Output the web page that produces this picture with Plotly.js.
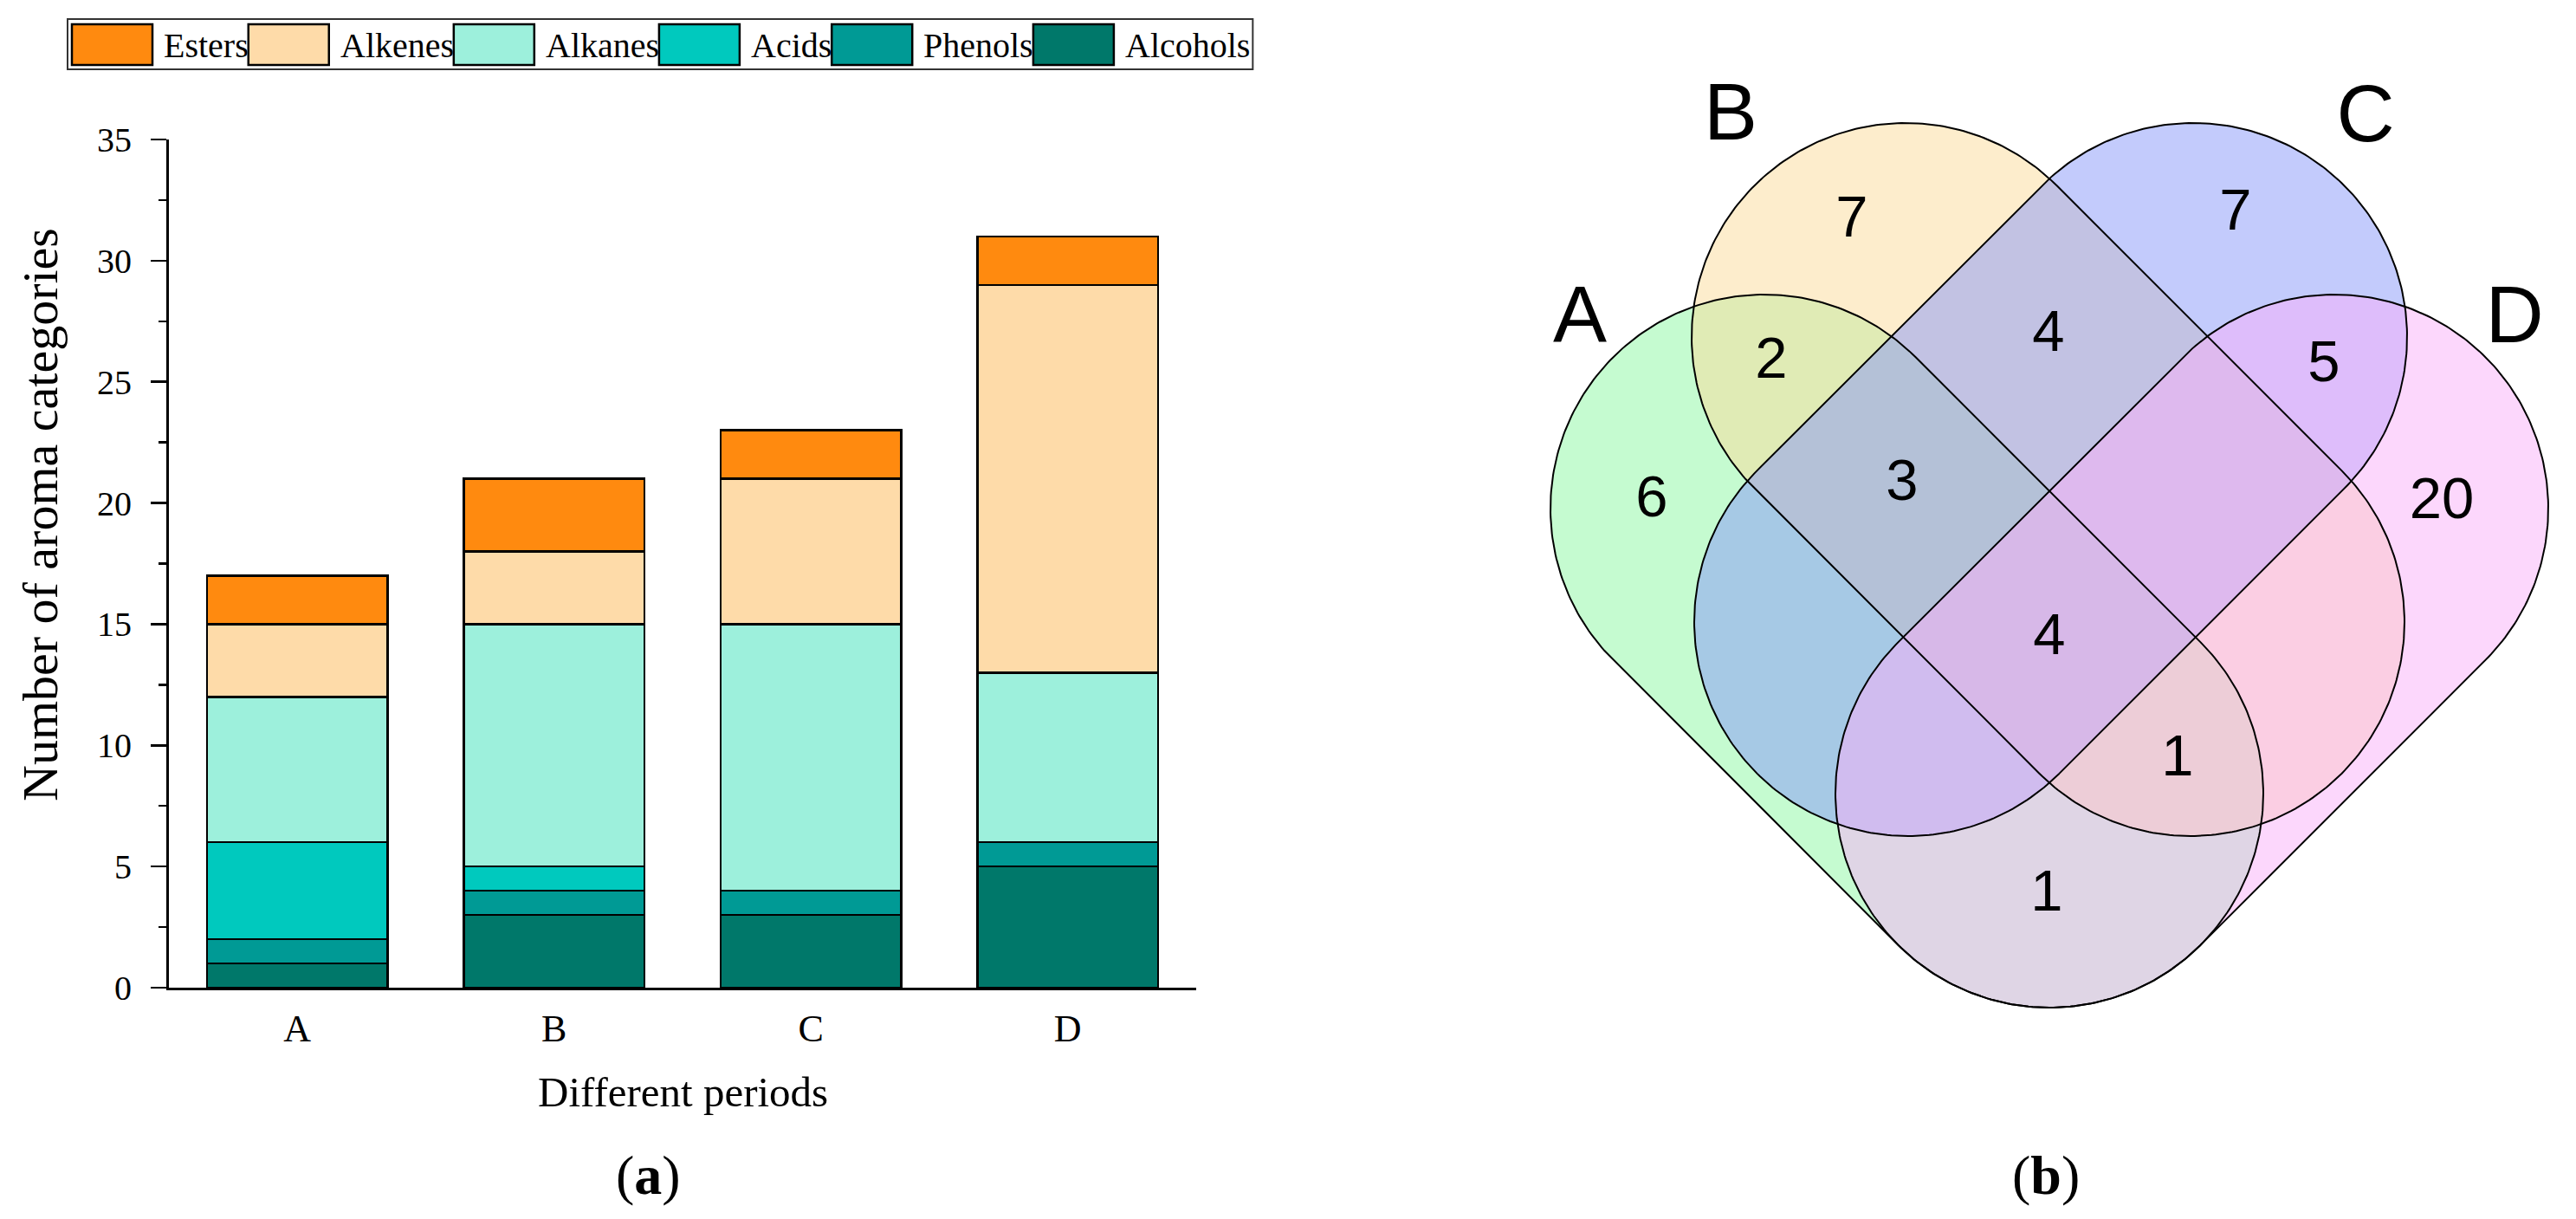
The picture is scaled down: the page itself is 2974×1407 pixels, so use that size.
<!DOCTYPE html>
<html>
<head>
<meta charset="utf-8">
<script src="https://cdn.plot.ly/plotly-3.0.1.min.js"></script>
<style>html,body{margin:0;padding:0;background:#fff;} #chart{width:2974px;height:1407px;}</style>
</head>
<body>
<div id="chart"></div>
<script>
// ---------- Data: panel (a) ----------
const categories = ['A', 'B', 'C', 'D'];
const seriesNames = ['Esters', 'Alkenes', 'Alkanes', 'Acids', 'Phenols', 'Alcohols'];
const esters   = [2, 3, 2, 2];
const alkenes  = [3, 3, 6, 16];
const alkanes  = [6, 10, 11, 7];
const acids    = [4, 1, 0, 0];
const phenols  = [1, 1, 1, 1];
const alcohols = [1, 3, 3, 5];
const yTicks = [0, 5, 10, 15, 20, 25, 30, 35];

// ---------- Data: panel (b) ----------
const vennSets = ['A', 'B', 'C', 'D'];
const vennRegions = ['A', 'B', 'C', 'D', 'AB', 'BC', 'CD', 'ABC', 'ABCD', 'ABD', 'AD'];
const vennCounts  = [6, 7, 7, 20, 2, 4, 5, 3, 4, 1, 1];

// ---------- Styles / layout geometry ----------
const W = 2974, H = 1407;
const seriesColors = {
  Esters: '#FF8A0F', Alkenes: '#FEDBA9', Alkanes: '#9DF0DC',
  Acids: '#00C9BE', Phenols: '#009A95', Alcohols: '#00786A'
};
const seriesValues = {Esters: esters, Alkenes: alkenes, Alkanes: alkanes, Acids: acids, Phenols: phenols, Alcohols: alcohols};
const serif = 'Liberation Serif, Times New Roman, serif';
const sans = 'Liberation Sans, Arial, sans-serif';

const px = x => x / W;
const py = y => 1 - y / H;

const traces = [];
// stacked bars bottom-up
const stackOrder = seriesNames.slice().reverse();
stackOrder.forEach(name => {
  traces.push({
    type: 'bar', name: name, x: categories, y: seriesValues[name],
    marker: {color: seriesColors[name], line: {color: '#000', width: 2.5}},
    xaxis: 'x', yaxis: 'y', showlegend: false, hoverinfo: 'x+y+name'
  });
});

// Venn capsules (pixel-like coordinate system on x2/y2)
const vennGeom = {
  r: 247,
  A: [[2037, 587], [2366, 916]],
  B: [[2200, 389], [2529, 718]],
  C: [[2532, 389], [2203, 718]],
  D: [[2695, 587], [2366, 916]]
};
const vennFill = {
  A: 'rgba(139,247,161,0.5)', B: 'rgba(251,219,153,0.5)',
  C: 'rgba(135,151,249,0.5)', D: 'rgba(249,175,249,0.5)'
};
function capsule(c1, c2, r, n) {
  const a = Math.atan2(c2[1] - c1[1], c2[0] - c1[0]);
  const xs = [], ys = [];
  for (let i = 0; i <= n; i++) {
    const t = a - Math.PI / 2 + Math.PI * i / n;
    xs.push(c2[0] + r * Math.cos(t)); ys.push(c2[1] + r * Math.sin(t));
  }
  for (let i = 0; i <= n; i++) {
    const t = a + Math.PI / 2 + Math.PI * i / n;
    xs.push(c1[0] + r * Math.cos(t)); ys.push(c1[1] + r * Math.sin(t));
  }
  xs.push(xs[0]); ys.push(ys[0]);
  return {xs, ys};
}
const capsulePaths = {};
vennSets.forEach(s => {
  const g = vennGeom[s];
  capsulePaths[s] = capsule(g[0], g[1], vennGeom.r, 160);
});
// fills first
vennSets.forEach(s => {
  const p = capsulePaths[s];
  traces.push({
    type: 'scatter', mode: 'lines', x: p.xs, y: p.ys, fill: 'toself',
    fillcolor: vennFill[s], line: {color: 'rgba(0,0,0,0)', width: 0},
    xaxis: 'x2', yaxis: 'y2', showlegend: false, hoverinfo: 'skip', name: s
  });
});
// outlines on top
vennSets.forEach(s => {
  const p = capsulePaths[s];
  traces.push({
    type: 'scatter', mode: 'lines', x: p.xs, y: p.ys,
    line: {color: '#000', width: 2},
    xaxis: 'x2', yaxis: 'y2', showlegend: false, hoverinfo: 'skip', name: s + ' outline'
  });
});
const regionPos = {
  A: [1907, 579], B: [2138, 256], C: [2581, 248], D: [2819, 581],
  AB: [2045, 419], BC: [2365, 388], CD: [2683, 423], ABC: [2196, 560],
  ABCD: [2366, 738], ABD: [2514, 878], AD: [2363, 1034]
};
traces.push({
  type: 'scatter', mode: 'text',
  x: vennRegions.map(r => regionPos[r][0]),
  y: vennRegions.map(r => regionPos[r][1]),
  text: vennCounts.map(String),
  textposition: 'middle center',
  textfont: {family: sans, size: 67, color: '#000'},
  xaxis: 'x2', yaxis: 'y2', showlegend: false, hoverinfo: 'skip'
});
const setLabelPos = {A: [1824, 372], B: [1998, 138], C: [2731, 140], D: [2903, 372]};
traces.push({
  type: 'scatter', mode: 'text',
  x: vennSets.map(s => setLabelPos[s][0]),
  y: vennSets.map(s => setLabelPos[s][1]),
  text: vennSets,
  textposition: 'middle center',
  textfont: {family: sans, size: 93, color: '#000'},
  xaxis: 'x2', yaxis: 'y2', showlegend: false, hoverinfo: 'skip'
});

// ---------- custom legend (swatches drawn from names/colours) ----------
const shapes = [];
const annotations = [];
const legFont = 40;
function textWidth(t) {
  try {
    const c = document.createElement('canvas').getContext('2d');
    c.font = legFont + 'px "Liberation Serif"';
    return c.measureText(t).width;
  } catch (e) { return t.length * legFont * 0.45; }
}
let lx = 83;
const legTop = 28, legBot = 75;
seriesNames.forEach(name => {
  shapes.push({type: 'rect', xref: 'paper', yref: 'paper',
    x0: px(lx), x1: px(lx + 93), y0: py(legBot), y1: py(legTop),
    fillcolor: seriesColors[name], line: {color: '#000', width: 2.5}});
  const tx = lx + 93 + 11;
  annotations.push({xref: 'paper', yref: 'paper', x: px(tx), y: py((legTop + legBot) / 2 + 1),
    xanchor: 'left', yanchor: 'middle', showarrow: false, text: name,
    font: {family: serif, size: legFont, color: '#000'}});
  lx = tx + textWidth(name) + 2;
});
shapes.unshift({type: 'rect', xref: 'paper', yref: 'paper',
  x0: px(78), x1: px(lx + 3), y0: py(80), y1: py(22),
  fillcolor: '#fff', line: {color: '#333', width: 2}, layer: 'below'});

// titles and captions
annotations.push({xref: 'paper', yref: 'paper', x: px(46), y: py(594), textangle: -90,
  showarrow: false, text: 'Number of aroma categories', xanchor: 'center', yanchor: 'middle',
  font: {family: serif, size: 58, color: '#000'}});
annotations.push({xref: 'paper', yref: 'paper', x: px(788), y: py(1260),
  showarrow: false, text: 'Different periods', xanchor: 'center', yanchor: 'middle',
  font: {family: serif, size: 49, color: '#000'}});
annotations.push({xref: 'paper', yref: 'paper', x: px(748), y: py(1356),
  showarrow: false, text: '(<b>a</b>)', xanchor: 'center', yanchor: 'middle',
  font: {family: serif, size: 64, color: '#000'}});
annotations.push({xref: 'paper', yref: 'paper', x: px(2362), y: py(1356),
  showarrow: false, text: '(<b>b</b>)', xanchor: 'center', yanchor: 'middle',
  font: {family: serif, size: 64, color: '#000'}});

const layout = {
  width: W, height: H,
  margin: {l: 0, r: 0, t: 0, b: 0, pad: 0},
  paper_bgcolor: '#fff', plot_bgcolor: 'rgba(0,0,0,0)',
  barmode: 'stack', bargap: 0.297,
  showlegend: false,
  xaxis: {
    domain: [px(195), px(1381)], range: [-0.5, 3.5], type: 'category',
    showline: true, linecolor: '#000', linewidth: 3, ticks: '',
    tickfont: {family: serif, size: 44, color: '#000'}, ticklabelstandoff: 6,
    showgrid: false, zeroline: false, anchor: 'y', fixedrange: true
  },
  yaxis: {
    domain: [py(1140), py(161)], range: [0, 35],
    tickvals: yTicks, ticktext: yTicks.map(String),
    showline: true, linecolor: '#000', linewidth: 3,
    ticks: 'outside', ticklen: 18, tickwidth: 2.5, tickcolor: '#000',
    minor: {dtick: 2.5, ticks: 'outside', ticklen: 9, tickwidth: 2.5, tickcolor: '#000', showgrid: false},
    tickfont: {family: serif, size: 40, color: '#000'}, ticklabelstandoff: 14,
    showgrid: false, zeroline: false, anchor: 'x', fixedrange: true
  },
  xaxis2: {domain: [px(1700), 1], range: [1700, W], visible: false, anchor: 'y2', fixedrange: true},
  yaxis2: {domain: [0, 1], range: [H, 0], visible: false, anchor: 'x2', fixedrange: true},
  shapes: shapes,
  annotations: annotations
};

Plotly.newPlot('chart', traces, layout, {displayModeBar: false, staticPlot: true});
</script>
</body>
</html>
